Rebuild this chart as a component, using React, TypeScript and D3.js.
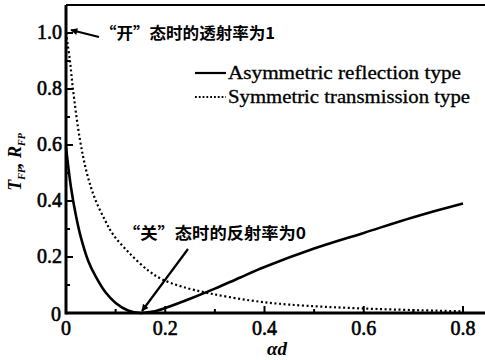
import React from "react";
import * as d3 from "d3";

const reflX = [0, 0.01, 0.02, 0.03, 0.045, 0.06, 0.08, 0.1, 0.125, 0.15, 0.175, 0.2, 0.25, 0.3, 0.35, 0.4, 0.5, 0.6, 0.7, 0.8];
const reflY = [0.593, 0.449, 0.348, 0.27, 0.185, 0.13, 0.073, 0.036, 0.009, 0.0, 0.005, 0.018, 0.051, 0.087, 0.126, 0.164, 0.23, 0.286, 0.342, 0.391];
const transX = [0, 0.008, 0.014, 0.028, 0.042, 0.058, 0.079, 0.095, 0.127, 0.167, 0.194, 0.234, 0.29, 0.371, 0.45, 0.6, 0.8];
const transY = [1.0, 0.9, 0.8, 0.62, 0.5, 0.41, 0.33, 0.28, 0.215, 0.15, 0.12, 0.094, 0.07, 0.045, 0.03, 0.016, 0.006];
const xMajor = [0, 0.2, 0.4, 0.6, 0.8];
const xMinor = [0.1, 0.3, 0.5, 0.7];
const yMajor = [0.2, 0.4, 0.6, 0.8, 1.0];
const yMinor = [0.1, 0.3, 0.5, 0.7, 0.9];
const seriesNames = ["Asymmetric reflection type", "Symmetric transmission type"];
const noteOn = "“开”态时的透射率为1";
const noteOff = "“关”态时的反射率为0";

const W = 485, H = 360;
const x = d3.scaleLinear().domain([0, 0.8]).range([66, 463]);
const y = d3.scaleLinear().domain([0, 1]).range([313, 33]);

export default function App() {
  const line = d3.line<[number, number]>().x(d => x(d[0])).y(d => y(d[1])).curve(d3.curveCatmullRom.alpha(0.5));
  const rPts = reflX.map((v, i) => [v, reflY[i]] as [number, number]);
  const tPts = transX.map((v, i) => [v, transY[i]] as [number, number]);
  const serif = "'Liberation Serif', 'DejaVu Serif', serif";
  const cjk = "'Noto Sans CJK SC', sans-serif";
  const xRight = x(0.85);
  const yTop = y(1.1);
  const tickText = { fontFamily: serif, fontSize: 20, stroke: "#000", strokeWidth: 0.6 } as const;
  return (
    <svg width={W} height={H} style={{ position: "absolute", left: 0, top: 0, background: "#fff" }}>
      <defs>
        <marker id="ah" viewBox="0 0 10 10" refX="9" refY="5" markerWidth="9" markerHeight="7" orient="auto" markerUnits="userSpaceOnUse">
          <path d="M0,0 L10,5 L0,10 z" fill="#000" />
        </marker>
      </defs>
      <rect width={W} height={H} fill="#fff" />
      <line x1={x(0)} x2={xRight} y1={yTop} y2={yTop} stroke="#000" strokeWidth={2} />
      <line x1={x(0)} x2={x(0)} y1={yTop} y2={y(0) + 1.5} stroke="#000" strokeWidth={3} />
      <line x1={x(0)} x2={xRight} y1={y(0)} y2={y(0)} stroke="#000" strokeWidth={3} />
      {xMajor.map(v => <line key={"xm" + v} x1={x(v)} x2={x(v)} y1={y(0)} y2={y(0) - 7} stroke="#000" strokeWidth={2} />)}
      {xMinor.map(v => <line key={"xn" + v} x1={x(v)} x2={x(v)} y1={y(0)} y2={y(0) - 4} stroke="#000" strokeWidth={2} />)}
      {yMajor.map(v => <line key={"ym" + v} x1={x(0)} x2={x(0) + 7} y1={y(v)} y2={y(v)} stroke="#000" strokeWidth={2} />)}
      {yMinor.map(v => <line key={"yn" + v} x1={x(0)} x2={x(0) + 4} y1={y(v)} y2={y(v)} stroke="#000" strokeWidth={2} />)}
      {xMajor.map(v => (
        <text key={"xl" + v} x={x(v)} y={335} textAnchor="middle" {...tickText}>
          {v === 0 ? "0" : v.toFixed(1)}
        </text>
      ))}
      <text x={61} y={321} textAnchor="end" {...tickText}>0</text>
      {yMajor.map(v => (
        <text key={"yl" + v} x={62} y={y(v) + 6} textAnchor="end" {...tickText}>
          {v.toFixed(1)}
        </text>
      ))}
      <path d={line(rPts) || ""} fill="none" stroke="#000" strokeWidth={2.6} />
      <path d={line(tPts) || ""} fill="none" stroke="#000" strokeWidth={2.2} strokeDasharray="2 2.6" />
      <line x1={195} x2={226} y1={73} y2={73} stroke="#000" strokeWidth={2.2} />
      <text x={228} y={79} fontFamily={serif} fontSize={18} textLength={233} lengthAdjust="spacingAndGlyphs" stroke="#000" strokeWidth={0.3}>{seriesNames[0]}</text>
      <line x1={195} x2={226} y1={97} y2={97} stroke="#000" strokeWidth={2} strokeDasharray="1.8 2" />
      <text x={228} y={103} fontFamily={serif} fontSize={18} textLength={242} lengthAdjust="spacingAndGlyphs" stroke="#000" strokeWidth={0.3}>{seriesNames[1]}</text>
      <line x1={99} x2={71} y1={37} y2={30} stroke="#000" strokeWidth={2.2} markerEnd="url(#ah)" />
      <text x={100} y={39} fontFamily={cjk} fontSize={16} fontWeight="bold" textLength={175} lengthAdjust="spacingAndGlyphs">{noteOn}</text>
      <text x={123} y={239} fontFamily={cjk} fontSize={16} fontWeight="bold" textLength={183} lengthAdjust="spacingAndGlyphs">{noteOff}</text>
      <line x1={188} x2={142} y1={249} y2={311} stroke="#000" strokeWidth={2.2} markerEnd="url(#ah)" />
      <text x={277} y={355} textAnchor="middle" fontFamily={serif} fontSize={19} fontStyle="italic" fontWeight="bold">αd</text>
      <text transform="translate(21,162) rotate(-90)" textAnchor="middle" fontFamily={serif} fontSize={18} fontStyle="italic" fontWeight="bold">
        T<tspan fontSize={10} dy={4}>FP</tspan><tspan dy={-4}>, R</tspan><tspan fontSize={10} dy={4}>FP</tspan>
      </text>
    </svg>
  );
}
